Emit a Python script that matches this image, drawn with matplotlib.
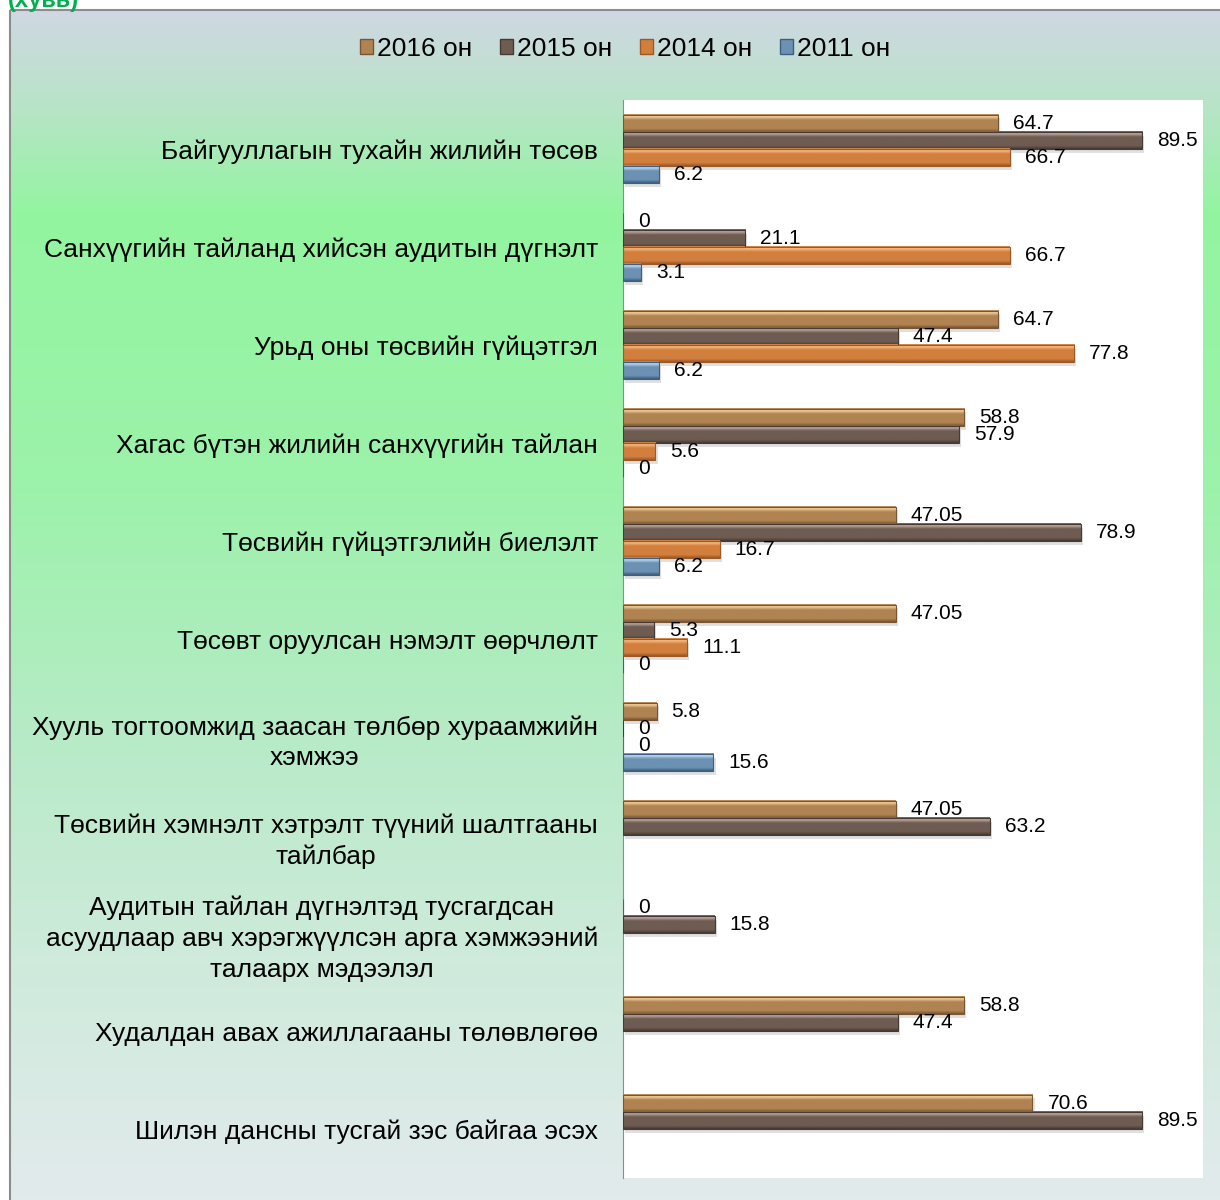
import numpy as np
import matplotlib.pyplot as plt
from matplotlib.colors import LinearSegmentedColormap
from matplotlib.patches import Rectangle, Patch

plt.rcParams['font.family'] = ['Liberation Sans', 'DejaVu Sans']

# Data (top to bottom)
categories = [
    "Байгууллагын тухайн жилийн төсөв",
    "Санхүүгийн тайланд хийсэн аудитын дүгнэлт",
    "Урьд оны төсвийн гүйцэтгэл",
    "Хагас бүтэн жилийн санхүүгийн тайлан",
    "Төсвийн гүйцэтгэлийн биелэлт",
    "Төсөвт оруулсан нэмэлт өөрчлөлт",
    "Хууль тогтоомжид заасан төлбөр хураамжийн\nхэмжээ",
    "Төсвийн хэмнэлт хэтрэлт түүний шалтгааны\nтайлбар",
    "Аудитын тайлан дүгнэлтэд тусгагдсан\nасуудлаар авч хэрэгжүүлсэн арга хэмжээний\nталаарх мэдээлэл",
    "Худалдан авах ажиллагааны төлөвлөгөө",
    "Шилэн дансны тусгай зэс байгаа эсэх",
]
series_names = ["2016 он", "2015 он", "2014 он", "2011 он"]
v2016 = [64.7, 0, 64.7, 58.8, 47.05, 47.05, 5.8, 47.05, 0, 58.8, 70.6]
v2015 = [89.5, 21.1, 47.4, 57.9, 78.9, 5.3, 0, 63.2, 15.8, 47.4, 89.5]
v2014 = [66.7, 66.7, 77.8, 5.6, 16.7, 11.1, 0, np.nan, np.nan, np.nan, np.nan]
v2011 = [6.2, 3.1, 6.2, 0, 6.2, 0, 15.6, np.nan, np.nan, np.nan, np.nan]

# (highlight, body, dark) per series
palette = [
    ('#F6D3A0', '#B08352', '#7A5534'),
    ('#C0ABA0', '#6E5C52', '#463A33'),
    ('#FBC085', '#D27F3E', '#9A5A27'),
    ('#C2DDF2', '#6C91B3', '#3F5F80'),
]

fig = plt.figure(figsize=(12.2, 12), dpi=100)

# chart background with vertical gradient
bg = fig.add_axes([0, 0, 1, 1], zorder=-10)
bg.axis('off')
bg_cmap = LinearSegmentedColormap.from_list('bg', [
    (0.0, '#CFD8E2'), (0.08, '#B8E4C8'), (0.17, '#93F5A0'),
    (0.40, '#9CF2AA'), (0.62, '#B8EAC8'), (0.80, '#CEEBDB'), (1.0, '#E2EAEC')])
bg.imshow(np.linspace(0, 1, 256)[:, None], cmap=bg_cmap, aspect='auto',
          extent=(10, 1230, 1200, 10))
bg.add_patch(Rectangle((10, 10), 1230, 1200, fill=False, edgecolor='#8C8C8C', lw=1.5))
bg.set_xlim(0, 1220)
bg.set_ylim(1200, 0)

fig.text(8 / 1220, 1.0, '(хувь)', color='#00B050', fontweight='bold',
         fontsize=17, va='center', ha='left')

ax = fig.add_axes([623 / 1220, 1 - 1178 / 1200, 580 / 1220, 1078 / 1200])
ax.set_facecolor('white')

y = np.arange(len(categories))
h = 0.176
offsets = [-1.5 * h, -0.5 * h, 0.5 * h, 1.5 * h]
all_vals = [v2016, v2015, v2014, v2011]

for vals, off, (hi, body, dark) in zip(all_vals, offsets, palette):
    cmap = LinearSegmentedColormap.from_list('b', [
        (0.0, body), (0.12, hi), (0.32, body), (0.82, body), (1.0, dark)])
    bars = ax.barh(y + off, vals, height=h, color='none', edgecolor=dark, lw=0.8, zorder=3)
    for bar, v in zip(bars, vals):
        if np.isnan(v):
            continue
        if v > 0:
            x0, y0 = bar.get_x(), bar.get_y()
            w, hh = bar.get_width(), bar.get_height()
            # soft shadow
            ax.add_patch(Rectangle((x0 + 0.35, y0 + 0.04), w, hh, color='#000000',
                                   alpha=0.12, lw=0, zorder=1))
            ax.imshow(np.linspace(0, 1, 40)[:, None], cmap=cmap, aspect='auto',
                      extent=(x0, x0 + w, y0 + hh, y0), zorder=2)
        ax.annotate(f'{v:g}', (v, bar.get_y() + bar.get_height() / 2),
                    xytext=(15, 0), textcoords='offset pixels', va='center',
                    ha='left', fontsize=15, zorder=5)

ax.set_xlim(0, 100)
ax.set_ylim(len(categories) - 0.5, -0.5)
ax.set_xticks([])
ax.set_yticks(y)
ax.set_yticklabels(categories, fontsize=19)
ax.tick_params(axis='y', length=0, pad=18)
for lbl in ax.get_yticklabels():
    lbl.set_multialignment('center')
    lbl.set_linespacing(1.35)
for s in ['top', 'right', 'bottom']:
    ax.spines[s].set_visible(False)
ax.spines['left'].set_color('#8C8C8C')

handles = [Patch(facecolor=p[1], edgecolor=p[2]) for p in palette]
fig.legend(handles, series_names, loc='center', bbox_to_anchor=(625 / 1220, 1 - 49 / 1200),
           ncol=4, frameon=False, fontsize=19, handlelength=0.5, handleheight=0.5,
           handletextpad=0.15, columnspacing=1.05)

fig.savefig('out.png', dpi=100)
